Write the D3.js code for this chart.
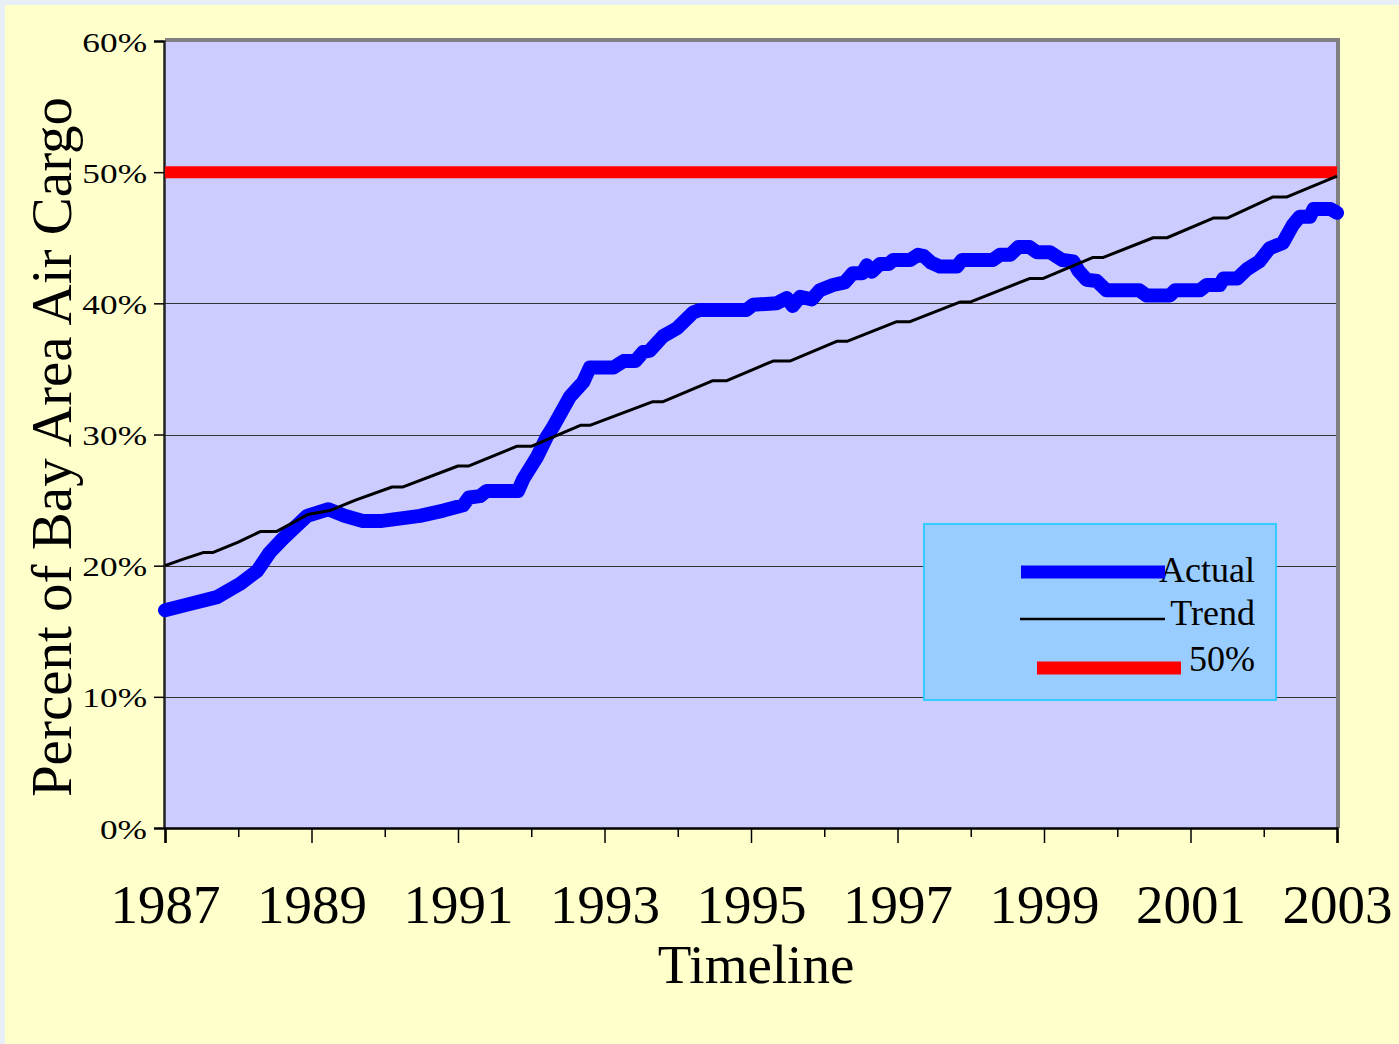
<!DOCTYPE html>
<html>
<head>
<meta charset="utf-8">
<script src="https://cdn.jsdelivr.net/npm/d3@7"></script>
<style>
  body { margin: 0; background: #e8eff6; }
  svg { display: block; }
  text { font-family: "Liberation Serif", "Times New Roman", serif; fill: #000; }
</style>
</head>
<body>
<svg id="chart" width="1399" height="1044"></svg>
<script>
// actual share of bay area air cargo, [year, percent]
const actual = [
  [1987.00, 16.6], [1987.35, 17.1], [1987.71, 17.6], [1988.02, 18.6], [1988.26, 19.6],
  [1988.43, 21.0], [1988.60, 22.0], [1988.75, 22.8], [1988.94, 23.8], [1989.23, 24.3],
  [1989.45, 23.8], [1989.70, 23.4], [1989.94, 23.4], [1990.48, 23.8], [1990.80, 24.2],
  [1991.07, 24.6], [1991.15, 25.2], [1991.30, 25.3], [1991.39, 25.7], [1991.82, 25.7],
  [1991.89, 26.6], [1992.08, 28.3], [1992.21, 29.8], [1992.30, 30.6], [1992.53, 32.9],
  [1992.71, 34.0], [1992.80, 35.1], [1993.12, 35.1], [1993.26, 35.6], [1993.42, 35.6],
  [1993.53, 36.3], [1993.62, 36.4], [1993.80, 37.5], [1993.99, 38.1], [1994.21, 39.3],
  [1994.30, 39.5], [1994.94, 39.5], [1995.03, 39.9], [1995.35, 40.0], [1995.49, 40.4],
  [1995.57, 39.8], [1995.67, 40.5], [1995.83, 40.3], [1995.94, 41.0], [1996.12, 41.4],
  [1996.28, 41.6], [1996.39, 42.3], [1996.52, 42.3], [1996.58, 42.9], [1996.65, 42.4],
  [1996.76, 43.0], [1996.88, 43.0], [1996.94, 43.3], [1997.17, 43.3], [1997.28, 43.7],
  [1997.36, 43.6], [1997.46, 43.1], [1997.58, 42.8], [1997.81, 42.8], [1997.88, 43.3],
  [1998.30, 43.3], [1998.40, 43.7], [1998.54, 43.7], [1998.65, 44.3], [1998.80, 44.3],
  [1998.90, 43.9], [1999.08, 43.9], [1999.25, 43.3], [1999.40, 43.2], [1999.47, 42.5],
  [1999.58, 41.8], [1999.72, 41.7], [1999.85, 41.0], [2000.30, 41.0], [2000.40, 40.6],
  [2000.72, 40.6], [2000.79, 41.0], [2001.13, 41.0], [2001.22, 41.4], [2001.40, 41.4],
  [2001.45, 41.9], [2001.64, 41.9], [2001.77, 42.6], [2001.94, 43.2], [2002.08, 44.2],
  [2002.26, 44.6], [2002.40, 46.0], [2002.49, 46.6], [2002.63, 46.6], [2002.68, 47.2],
  [2002.91, 47.2], [2003.00, 46.9]
];

// trend line, [year, percent]
const trend = [
  [1987.00, 20.0], [1987.25, 20.5], [1987.52, 21.0], [1987.65, 21.0], [1988.00, 21.8],
  [1988.30, 22.6], [1988.52, 22.6], [1988.95, 23.9], [1989.25, 24.2], [1989.60, 25.0],
  [1990.10, 26.0], [1990.25, 26.0], [1991.00, 27.6], [1991.15, 27.6], [1991.80, 29.1],
  [1992.00, 29.1], [1992.67, 30.7], [1992.80, 30.7], [1993.66, 32.5], [1993.80, 32.5],
  [1994.48, 34.1], [1994.67, 34.1], [1995.30, 35.6], [1995.53, 35.6], [1996.17, 37.1],
  [1996.31, 37.1], [1996.99, 38.6], [1997.17, 38.6], [1997.85, 40.1], [1997.99, 40.1],
  [1998.81, 41.9], [1998.99, 41.9], [1999.67, 43.5], [1999.81, 43.5], [2000.49, 45.0],
  [2000.68, 45.0], [2001.31, 46.5], [2001.50, 46.5], [2002.12, 48.1], [2002.31, 48.1],
  [2003.00, 49.7]
];

const threshold = [[1987, 50], [2003, 50]];

const yearTicks = d3.range(1987, 2004);
const yearLabels = [1987, 1989, 1991, 1993, 1995, 1997, 1999, 2001, 2003];
const pctTicks = [0, 10, 20, 30, 40, 50, 60];

const legendItems = [
  { name: "Actual", color: "#0000ff", width: 13, x0: 1021, x1: 1165 },
  { name: "Trend", color: "#000000", width: 2.5, x0: 1020, x1: 1165 },
  { name: "50%", color: "#ff0000", width: 13, x0: 1037, x1: 1181 }
];

const svg = d3.select("#chart");
const plotLeft = 165, plotRight = 1337, plotTop = 41, plotBottom = 828;

const x = d3.scaleLinear().domain([1987, 2003]).range([plotLeft, plotRight]);
const y = d3.scaleLinear().domain([0, 60]).range([plotBottom, plotTop]);

// page background
svg.append("rect")
  .attr("x", 5).attr("y", 5)
  .attr("width", 1394).attr("height", 1039)
  .attr("fill", "#ffffcc");

// plot area
svg.append("rect")
  .attr("x", plotLeft).attr("y", plotTop)
  .attr("width", plotRight - plotLeft).attr("height", plotBottom - plotTop)
  .attr("fill", "#ccccff");

// grid
svg.append("g")
  .selectAll("line")
  .data(pctTicks.filter(d => d > 0 && d < 60))
  .join("line")
  .attr("x1", plotLeft).attr("x2", plotRight)
  .attr("y1", d => Math.round(y(d)) + 0.5).attr("y2", d => Math.round(y(d)) + 0.5)
  .attr("stroke", "#333")
  .attr("stroke-width", 1);

// frame (top and right in grey)
svg.append("path")
  .attr("d", `M${plotLeft},${plotTop - 1}H${plotRight + 1}V${plotBottom}`)
  .attr("fill", "none")
  .attr("stroke", "#808080")
  .attr("stroke-width", 4);

// y axis (labels are a bit wide in the original, so stretch them)
const yStretch = 1.26;
const yAxis = svg.append("g")
  .attr("transform", `translate(${plotLeft - 1},0)`)
  .call(d3.axisLeft(y).tickValues(pctTicks).tickSize(10).tickPadding(6).tickFormat(d => d + "%"));
yAxis.select(".domain").attr("stroke", "#222").attr("stroke-width", 2.5);
yAxis.selectAll(".tick line").attr("stroke", "#000").attr("stroke-width", 1.5);
yAxis.selectAll(".tick text")
  .style("font-family", "'Liberation Serif', serif")
  .style("font-size", "28px")
  .attr("fill", "#000")
  .attr("x", -17 / yStretch)
  .attr("dy", "0.36em")
  .attr("transform", `scale(${yStretch},1)`);

// x axis
const xAxis = svg.append("g")
  .attr("transform", `translate(0,${plotBottom})`)
  .call(d3.axisBottom(x).tickValues(yearTicks).tickSize(15).tickPadding(10)
    .tickFormat(d => yearLabels.includes(d) ? d : ""));
xAxis.select(".domain").attr("stroke", "#000").attr("stroke-width", 2.5);
xAxis.selectAll(".tick line")
  .attr("stroke", "#000")
  .attr("stroke-width", 1.5)
  .attr("y2", d => yearLabels.includes(d) ? 15 : 9);
xAxis.selectAll(".tick text")
  .style("font-family", "'Liberation Serif', serif")
  .style("font-size", "55px")
  .attr("fill", "#000")
  .attr("y", 95)
  .attr("dy", 0);

// series
const line = d3.line().x(d => x(d[0])).y(d => y(d[1]));

svg.append("path")
  .datum(threshold)
  .attr("d", line)
  .attr("fill", "none")
  .attr("stroke", "#ff0000")
  .attr("stroke-width", 12);

svg.append("path")
  .datum(actual)
  .attr("d", line)
  .attr("fill", "none")
  .attr("stroke", "#0000ff")
  .attr("stroke-width", 14)
  .attr("stroke-linejoin", "round")
  .attr("stroke-linecap", "round");

svg.append("path")
  .datum(trend)
  .attr("d", line)
  .attr("fill", "none")
  .attr("stroke", "#000")
  .attr("stroke-width", 3)
  .attr("stroke-linejoin", "round");

// axis titles
svg.append("text")
  .attr("x", (plotLeft + plotRight) / 2 + 5)
  .attr("y", 983)
  .attr("text-anchor", "middle")
  .style("font-size", "55px")
  .text("Timeline");

svg.append("text")
  .attr("transform", `translate(71,447) rotate(-90)`)
  .attr("text-anchor", "middle")
  .style("font-size", "57px")
  .text("Percent of Bay Area Air Cargo");

// legend
const legend = svg.append("g");
legend.append("rect")
  .attr("x", 924).attr("y", 524)
  .attr("width", 352).attr("height", 176)
  .attr("fill", "#99ccff")
  .attr("stroke", "#33ccff")
  .attr("stroke-width", 2);

const rows = legend.selectAll("g")
  .data(legendItems)
  .join("g")
  .attr("transform", (d, i) => `translate(0,${[572, 619, 668][i]})`);

rows.append("text")
  .attr("x", 1255)
  .attr("y", (d, i) => [10, 6, 3][i])
  .attr("text-anchor", "end")
  .style("font-size", "36px")
  .text(d => d.name);

rows.append("line")
  .attr("x1", d => d.x0).attr("x2", d => d.x1)
  .attr("stroke", d => d.color)
  .attr("stroke-width", d => d.width);
</script>
</body>
</html>
